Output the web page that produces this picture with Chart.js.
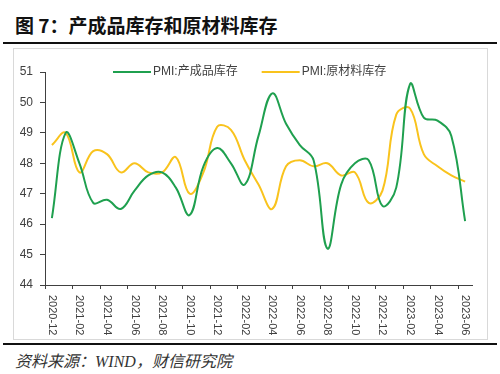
<!DOCTYPE html>
<html>
<head>
<meta charset="utf-8">
<script src="https://cdn.jsdelivr.net/npm/chart.js@4"></script>
<style>
  body { margin: 0; background: #fff; }
  #page { position: relative; width: 500px; height: 374px; overflow: hidden; }
  .title {
    position: absolute; left: 15px; top: 13px;
    font: bold 19px "Noto Sans CJK SC", sans-serif; color: #111; line-height: 24px;
  }
  .rule { position: absolute; left: 3px; width: 494px; height: 2px; background: #111; }
  .frame { position: absolute; left: 13px; top: 48px; width: 473px; height: 290px; border: 1px solid #d9d9d9; }
  .source {
    position: absolute; left: 15px; top: 351px;
    font: italic 16px "Liberation Serif", "Noto Sans CJK SC", serif; color: #333; line-height: 22px;
  }
  #wrap { position: absolute; left: 0; top: 0; width: 500px; height: 374px; }
</style>
</head>
<body>
<div id="page">
  <div class="title">图 7：产成品库存和原材料库存</div>
  <div class="rule" style="top:42px"></div>
  <div class="frame"></div>
  <div class="rule" style="top:343px"></div>
  <div class="source">资料来源：WIND，财信研究院</div>
  <div id="wrap"><canvas id="chart"></canvas></div>
</div>
<script>
const months = [
  '2020-12',
  '2021-01', '2021-02', '2021-03', '2021-04', '2021-05', '2021-06',
  '2021-07', '2021-08', '2021-09', '2021-10', '2021-11', '2021-12',
  '2022-01', '2022-02', '2022-03', '2022-04', '2022-05', '2022-06',
  '2022-07', '2022-08', '2022-09', '2022-10', '2022-11', '2022-12',
  '2023-01', '2023-02', '2023-03', '2023-04', '2023-05', '2023-06'
];
// PMI:产成品库存
const finishedGoods = [
  46.2,
  49.0, 48.0, 46.7, 46.8, 46.5, 47.1,
  47.6, 47.7, 47.2, 46.3, 47.9, 48.5,
  48.0, 47.3, 48.9, 50.3, 49.3, 48.6,
  48.1, 45.2, 47.3, 48.0, 48.1, 46.6,
  47.2, 50.6, 49.5, 49.4, 48.9, 46.1
];
// PMI:原材料库存
const rawMaterials = [
  48.6,
  49.0, 47.7, 48.4, 48.3, 47.7, 48.0,
  47.7, 47.7, 48.2, 47.0, 47.7, 49.2,
  49.1, 48.1, 47.3, 46.5, 47.9, 48.1,
  47.9, 48.0, 47.6, 47.7, 46.7, 47.1,
  49.6, 49.8, 48.3, 47.9, 47.6, 47.4
];
const seriesNames = ['PMI:产成品库存', 'PMI:原材料库存'];
const seriesColors = ['#1fa04f', '#f9c31d'];
const yTicks = [44, 45, 46, 47, 48, 49, 50, 51];

const axisColor = '#404040';
const tickFont = '"Liberation Sans", Arial, sans-serif';

// month labels read top-to-bottom, one every two months
const xLabels = {
  id: 'xLabels',
  afterDraw(chart) {
    const ctx = chart.ctx;
    const scale = chart.scales.x;
    ctx.save();
    ctx.font = '11px ' + tickFont;
    ctx.fillStyle = axisColor;
    ctx.textAlign = 'left';
    ctx.textBaseline = 'middle';
    months.forEach((m, i) => {
      if (i % 2) return;
      ctx.save();
      ctx.translate(scale.getPixelForValue(i), scale.top + 10);
      ctx.rotate(Math.PI / 2);
      ctx.fillText(m, 0, 0);
      ctx.restore();
    });
    ctx.restore();
  }
};

// legend sits inside the plot, level with the top tick
const lineLegend = {
  id: 'lineLegend',
  afterDraw(chart) {
    const ctx = chart.ctx;
    const y = chart.chartArea.top;
    let x = 113;
    ctx.save();
    ctx.font = '12px ' + tickFont + ', "Noto Sans CJK SC"';
    ctx.textBaseline = 'middle';
    chart.data.datasets.forEach(ds => {
      ctx.strokeStyle = ds.borderColor;
      ctx.lineWidth = 2;
      ctx.beginPath();
      ctx.moveTo(x, y);
      ctx.lineTo(x + 38, y);
      ctx.stroke();
      x += 40;
      ctx.fillStyle = axisColor;
      ctx.fillText(ds.label, x, y);
      x += ctx.measureText(ds.label).width + 24;
    });
    ctx.restore();
  }
};

new Chart(document.getElementById('chart'), {
  type: 'line',
  data: {
    labels: months,
    datasets: [
      { label: seriesNames[0], data: finishedGoods, borderColor: seriesColors[0] },
      { label: seriesNames[1], data: rawMaterials, borderColor: seriesColors[1] }
    ]
  },
  options: {
    responsive: true,
    maintainAspectRatio: false,
    animation: false,
    elements: {
      line: { borderWidth: 2, tension: 0.4, fill: false },
      point: { radius: 0 }
    },
    layout: { padding: { left: 0, top: 72, right: 28, bottom: 37 } },
    scales: {
      x: {
        offset: true,
        afterFit: s => { s.height = 52; },
        ticks: { display: false, autoSkip: false },
        grid: {
          offset: true,
          drawOnChartArea: false,
          tickLength: 4,
          color: c => (c.index % 2 === 0 ? axisColor : 'rgba(0,0,0,0)')
        },
        border: { color: axisColor, width: 1 }
      },
      y: {
        min: 44,
        max: 51,
        afterFit: s => { s.width = 45; },
        afterBuildTicks: s => { s.ticks = yTicks.map(v => ({ value: v })); },
        ticks: { color: axisColor, padding: 7, font: { size: 12, family: tickFont } },
        grid: { drawOnChartArea: false, tickLength: 5, color: axisColor },
        border: { color: axisColor, width: 1 }
      }
    },
    plugins: {
      legend: { display: false },
      tooltip: { enabled: false }
    }
  },
  plugins: [xLabels, lineLegend]
});
</script>
</body>
</html>
